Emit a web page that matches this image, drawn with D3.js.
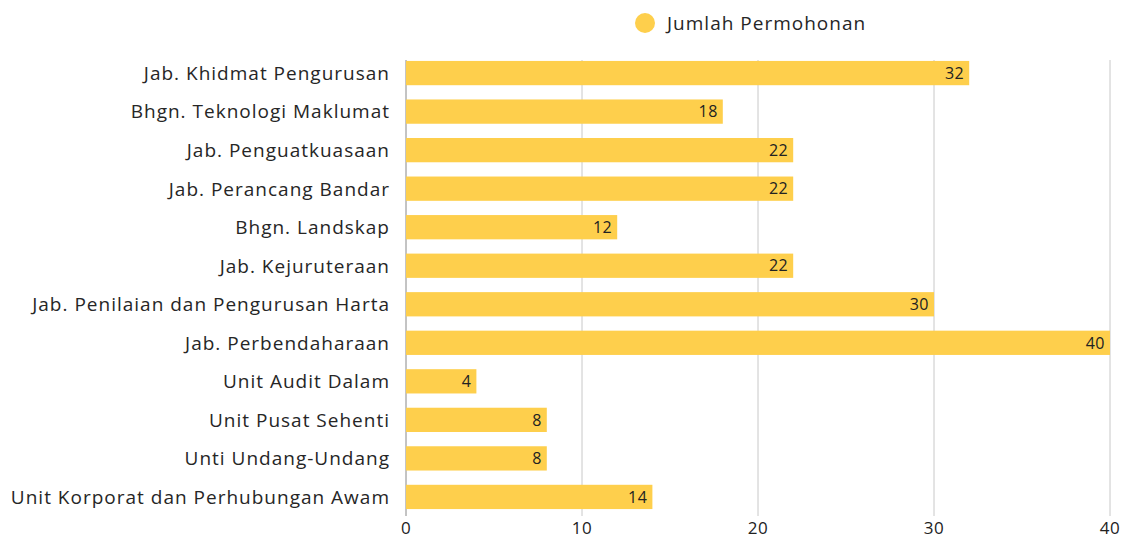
<!DOCTYPE html>
<html>
<head>
<meta charset="utf-8">
<script src="https://cdn.jsdelivr.net/npm/d3@7"></script>
<style>
  body { margin: 0; background: #fff; }
  text { font-family: "Open Sans", Lato, sans-serif; fill: #222; }
</style>
</head>
<body>
<div id="viz"></div>
<script>
const categories = [
    'Jab. Khidmat Pengurusan ',
    'Bhgn. Teknologi Maklumat',
    'Jab. Penguatkuasaan',
    'Jab. Perancang Bandar',
    'Bhgn. Landskap',
    'Jab. Kejuruteraan',
    'Jab. Penilaian dan Pengurusan Harta',
    'Jab. Perbendaharaan',
    'Unit Audit Dalam',
    'Unit Pusat Sehenti',
    'Unti Undang-Undang',
    'Unit Korporat dan Perhubungan Awam'
];
const values = [32, 18, 22, 22, 12, 22, 30, 40, 4, 8, 8, 14];
const xTicks = [0, 10, 20, 30, 40];
const seriesName = 'Jumlah Permohonan';

const width = 1122;
const height = 538;
const margin = { top: 54, right: 12, bottom: 22, left: 406 };
const barColour = '#fecf4c';

const svg = d3.select('#viz').append('svg')
    .attr('width', width)
    .attr('height', height);

const xScale = d3.scaleLinear()
    .domain([0, 40])
    .range([margin.left, width - margin.right]);

const yScale = d3.scaleBand()
    .domain(categories)
    .range([margin.top, height - margin.bottom])
    .paddingInner(0.37)
    .paddingOuter(0.18);

// grid lines
svg.append('g')
    .selectAll('line').data(xTicks.filter(t => t > 0))
    .enter().append('line')
        .attr('x1', d => xScale(d))
        .attr('x2', d => xScale(d))
        .attr('y1', margin.top + 6)
        .attr('y2', height - margin.bottom)
        .attr('stroke', '#c8c8c8')
        .attr('stroke-width', 1);

svg.append('line')
    .attr('x1', xScale(0)).attr('x2', xScale(0))
    .attr('y1', margin.top + 6)
    .attr('y2', height - margin.bottom)
    .attr('stroke', '#888')
    .attr('stroke-width', 1);

// bars
svg.append('g')
    .selectAll('rect').data(values)
    .enter().append('rect')
        .attr('x', xScale(0))
        .attr('y', (d, i) => yScale(categories[i]))
        .attr('width', d => xScale(d) - xScale(0))
        .attr('height', yScale.bandwidth())
        .attr('fill', barColour);

// value labels
svg.append('g')
    .selectAll('text').data(values)
    .enter().append('text')
        .attr('x', d => xScale(d) - 5)
        .attr('y', (d, i) => yScale(categories[i]) + yScale.bandwidth() / 2)
        .attr('dy', '0.36em')
        .attr('text-anchor', 'end')
        .style('font-size', '16px')
        .style('letter-spacing', '0.5px')
        .text(d => d);

// category labels
svg.append('g')
    .selectAll('text').data(categories)
    .enter().append('text')
        .attr('x', margin.left - 16)
        .attr('y', d => yScale(d) + yScale.bandwidth() / 2)
        .attr('dy', '0.36em')
        .attr('text-anchor', 'end')
        .style('font-size', '19px')
        .style('letter-spacing', '1px')
        .style('fill', '#262626')
        .text(d => d);

// x tick labels
svg.append('g')
    .selectAll('text').data(xTicks)
    .enter().append('text')
        .attr('x', d => xScale(d))
        .attr('y', height - 4)
        .attr('text-anchor', 'middle')
        .style('font-size', '17px')
        .style('letter-spacing', '0.5px')
        .text(d => d);

// legend
const legend = svg.append('g');
legend.append('circle')
    .attr('cx', 645).attr('cy', 23).attr('r', 10)
    .attr('fill', barColour);
legend.append('text')
    .attr('x', 667).attr('y', 23)
    .attr('dy', '0.36em')
    .style('font-size', '19px')
    .style('letter-spacing', '1px')
    .style('fill', '#262626')
    .text(seriesName);
</script>
</body>
</html>
